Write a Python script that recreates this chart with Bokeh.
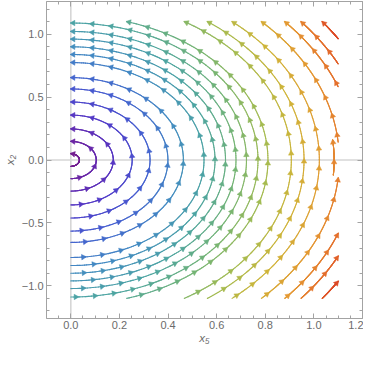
import math
import numpy as np
from bokeh.plotting import figure
from bokeh.models import (Range1d, LinearAxis, FixedTicker, Span,
                          ColumnDataSource, CustomJSTickFormatter)
from bokeh.embed import file_html
from bokeh.resources import INLINE

# ---------------- data ----------------
# Stream lines of the field (dx5, dx2) = (-x2, 2*x5); every stream line is the
# half ellipse 2*x5^2 + x2^2 = r^2, listed by its size r.
stream_r = [0.05, 0.148, 0.247, 0.357, 0.461, 0.565, 0.655, 0.775, 0.839, 0.900,
            0.961, 1.022, 1.089, 1.147, 1.283, 1.357, 1.446, 1.562, 1.661, 1.733, 1.830]
# one short extra stream piece close to the right border
extra_r = [1.532]
extra_y_from = [-0.12]
extra_y_to = [0.16]
# region in which the stream lines are drawn
region_x_max = 1.1
region_y_max = 1.1
speed_max = 2.46

x_ticks = [0.0, 0.2, 0.4, 0.6, 0.8, 1.0, 1.2]
x_tick_labels = ["0.0", "0.2", "0.4", "0.6", "0.8", "1.0", "1.2"]
x_minor_ticks = [round(-0.1 + 0.05 * i, 2) for i in range(27)]
y_ticks = [-1.0, -0.5, 0.0, 0.5, 1.0]
y_tick_labels = ["\u22121.0", "\u22120.5", "0.0", "0.5", "1.0"]
y_minor_ticks = [round(-1.2 + 0.1 * i, 1) for i in range(25)]
x_label = "x\u2085"
y_label = "x\u2082"

# ---------------- styling ----------------
rainbow = [(0.00, (0x78, 0x1c, 0x86)), (0.08, (0x66, 0x28, 0xac)),
           (0.16, (0x52, 0x3a, 0xc8)), (0.25, (0x44, 0x5e, 0xd0)),
           (0.35, (0x42, 0x8a, 0xc2)), (0.45, (0x4c, 0xa4, 0xa2)),
           (0.55, (0x74, 0xb4, 0x74)), (0.65, (0xa4, 0xbb, 0x50)),
           (0.75, (0xcf, 0xb4, 0x38)), (0.85, (0xe4, 0x98, 0x32)),
           (0.93, (0xe4, 0x6c, 0x2c)), (1.00, (0xd6, 0x34, 0x24))]


def colour(t):
    t = min(1.0, max(0.0, t))
    for (a, ca), (b, cb) in zip(rainbow[:-1], rainbow[1:]):
        if t <= b:
            f = (t - a) / (b - a)
            c = [round(ca[k] + f * (cb[k] - ca[k])) for k in range(3)]
            return "#%02x%02x%02x" % tuple(c)
    return "#%02x%02x%02x" % rainbow[-1][1]


W, H = 363, 350
BL, BR, BT, BB = 36, 1, 1, 32
xr = (-0.1, 1.2)
yr = (-1.26, 1.26)
sx = (W - 40 - BR) / (xr[1] - xr[0])
sy = (H - BT - 38) / (yr[1] - yr[0])

# ---------------- stream line geometry ----------------
pieces = []
lim = region_x_max * math.sqrt(2)
for r in stream_r:
    top = math.asin(min(1.0, region_y_max / r))
    if r > lim:
        gap = math.acos(lim / r)
        pieces.append((r, -top, -gap))
        pieces.append((r, gap, top))
    else:
        pieces.append((r, -top, top))
for r, a, b in zip(extra_r, extra_y_from, extra_y_to):
    pieces.append((r, math.asin(a / r), math.asin(b / r)))

seg = dict(x0=[], y0=[], x1=[], y1=[], c=[])
arr = dict(x=[], y=[], a=[], c=[])
spacing = 19.5
for r, p0, p1 in pieces:
    phi = np.linspace(p0, p1, 200)
    xs = r / math.sqrt(2) * np.cos(phi)
    ys = r * np.sin(phi)
    spd = np.sqrt(ys ** 2 + 4 * xs ** 2) / speed_max
    for i in range(len(phi) - 1):
        seg["x0"].append(xs[i]); seg["y0"].append(ys[i])
        seg["x1"].append(xs[i + 1]); seg["y1"].append(ys[i + 1])
        seg["c"].append(colour(0.5 * (spd[i] + spd[i + 1])))
    dxs = np.diff(xs) * sx
    dys = np.diff(ys) * sy
    cum = np.concatenate([[0], np.cumsum(np.hypot(dxs, dys))])
    L = cum[-1]
    s = L - 2.5
    while s > 4:
        j = int(np.searchsorted(cum, s)) - 1
        j = max(0, min(j, len(dxs) - 1))
        f = (s - cum[j]) / max(cum[j + 1] - cum[j], 1e-9)
        ax = xs[j] + f * (xs[j + 1] - xs[j])
        ay = ys[j] + f * (ys[j + 1] - ys[j])
        th = math.atan2(dys[j], dxs[j])
        arr["x"].append(ax); arr["y"].append(ay)
        arr["a"].append(th - math.pi / 2)
        arr["c"].append(colour(spd[j]))
        s -= spacing

# ---------------- figure ----------------
p = figure(width=W, height=H, x_range=Range1d(*xr), y_range=Range1d(*yr),
           output_backend="svg", toolbar_location=None,
           min_border_left=BL, min_border_right=BR, min_border_top=BT,
           min_border_bottom=BB, x_axis_location=None, y_axis_location=None)
p.grid.visible = False
p.outline_line_color = None
p.background_fill_color = "white"
p.border_fill_color = "white"

frame_col = "#a3a3a3"
label_col = "#6b6b6b"
fmt_code = """
let best = 0, d = Infinity;
for (let i = 0; i < tvals.length; i++) {
  const e = Math.abs(tvals[i] - tick);
  if (e < d) { d = e; best = i; }
}
return tlabs[best];
"""


def make_axis(ticks, minor, labels, show, title=None):
    ax = LinearAxis(ticker=FixedTicker(ticks=ticks, minor_ticks=minor))
    ax.axis_line_color = frame_col
    ax.major_tick_line_color = frame_col
    ax.minor_tick_line_color = frame_col
    ax.major_tick_in = 5
    ax.major_tick_out = 0
    ax.minor_tick_in = 3
    ax.minor_tick_out = 0
    if show:
        ax.formatter = CustomJSTickFormatter(args=dict(tvals=ticks, tlabs=labels),
                                             code=fmt_code)
        ax.major_label_text_font = "Liberation Sans"
        ax.major_label_text_font_size = "11px"
        ax.major_label_text_color = label_col
        ax.major_label_standoff = 3
        ax.axis_label = title
        ax.axis_label_standoff = 3
        ax.axis_label_text_font = "Liberation Sans"
        ax.axis_label_text_font_style = "italic"
        ax.axis_label_text_font_size = "11.5px"
        ax.axis_label_text_color = label_col
    else:
        ax.formatter = CustomJSTickFormatter(code="return '';")
        ax.major_label_text_font_size = "0px"
        ax.major_label_standoff = 0
    return ax


xa = make_axis(x_ticks, x_minor_ticks, x_tick_labels, True, x_label)
xa.axis_label_standoff = 0
xa.major_label_standoff = 2
p.add_layout(xa, "below")
p.add_layout(make_axis(x_ticks, x_minor_ticks, x_tick_labels, False), "above")
p.add_layout(make_axis(y_ticks, y_minor_ticks, y_tick_labels, True, y_label), "left")
p.add_layout(make_axis(y_ticks, y_minor_ticks, y_tick_labels, False), "right")

p.add_layout(Span(location=0, dimension="height", line_color="#d6d6d6",
                  line_width=1.6, level="underlay"))
p.add_layout(Span(location=0, dimension="width", line_color="#d6d6d6",
                  line_width=1.6, level="underlay"))

p.segment("x0", "y0", "x1", "y1", source=ColumnDataSource(seg), line_color="c",
          line_width=1.15, line_cap="round")
p.scatter("x", "y", source=ColumnDataSource(arr), marker="triangle", angle="a",
          size=5.5, fill_color="c", line_color="c", line_width=0.5)

open("out.html", "w").write(file_html(p, INLINE))
